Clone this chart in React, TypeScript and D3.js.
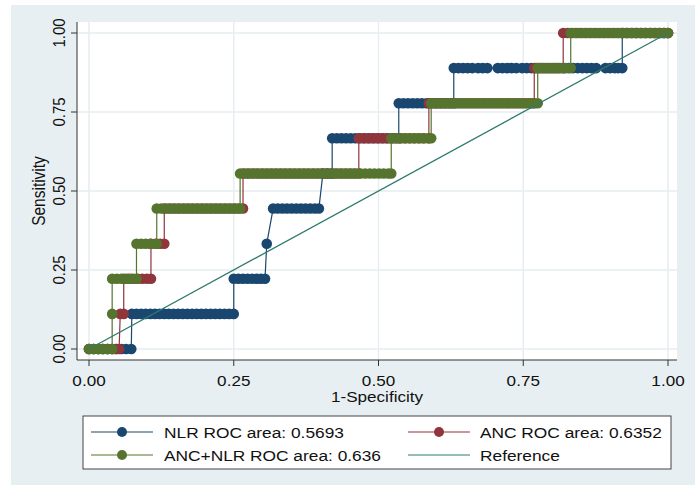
import React from 'react';
import * as d3 from 'd3';

// ---------- data ----------
const tickValues = [0, 0.25, 0.5, 0.75, 1];
const tickLabels = ['0.00', '0.25', '0.50', '0.75', '1.00'];
const xTitle = '1-Specificity';
const yTitle = 'Sensitivity';

// each row: [sensitivity, list of 1-specificity values at that sensitivity]
const nlrRows: [number, number[]][] = [
  [0, [0, 0.008, 0.016, 0.024, 0.032, 0.04, 0.048, 0.056, 0.064, 0.073]],
  [0.1111, [0.074, 0.082, 0.09, 0.098, 0.106, 0.114, 0.122, 0.13, 0.138, 0.146, 0.154, 0.162, 0.17, 0.178, 0.186, 0.194, 0.202, 0.21, 0.218, 0.226, 0.234, 0.242, 0.25]],
  [0.2222, [0.25, 0.258, 0.266, 0.274, 0.282, 0.29, 0.297, 0.304]],
  [0.3333, [0.307]],
  [0.4444, [0.318, 0.326, 0.334, 0.342, 0.35, 0.358, 0.366, 0.374, 0.382, 0.39, 0.397]],
  [0.5556, [0.404, 0.412, 0.42]],
  [0.6667, [0.42, 0.428, 0.436, 0.444, 0.452, 0.46, 0.468, 0.476, 0.484, 0.492, 0.5, 0.508, 0.516, 0.524, 0.535]],
  [0.7778, [0.535, 0.543, 0.551, 0.559, 0.567, 0.575, 0.583, 0.591, 0.599, 0.607, 0.615, 0.623, 0.63]],
  [0.8889, [0.63, 0.638, 0.646, 0.654, 0.662, 0.672, 0.68, 0.688, 0.706, 0.714, 0.722, 0.73, 0.738, 0.748, 0.756, 0.764, 0.772, 0.78, 0.788, 0.796, 0.804, 0.812, 0.82, 0.828, 0.836, 0.844, 0.852, 0.86, 0.868, 0.876, 0.892, 0.9, 0.908, 0.914, 0.921]],
  [1, [0.921, 0.929, 0.937, 0.945, 0.953, 0.961, 0.969, 0.977, 0.985, 0.993, 1]],
];

const ancRows: [number, number[]][] = [
  [0, [0, 0.008, 0.016, 0.024, 0.032, 0.04, 0.046, 0.052]],
  [0.1111, [0.054, 0.06]],
  [0.2222, [0.06, 0.068, 0.076, 0.084, 0.092, 0.1, 0.107]],
  [0.3333, [0.107, 0.115, 0.123, 0.13]],
  [0.4444, [0.13, 0.138, 0.146, 0.154, 0.162, 0.17, 0.178, 0.186, 0.194, 0.202, 0.21, 0.218, 0.226, 0.234, 0.242, 0.25, 0.258, 0.266]],
  [0.5556, [0.266, 0.274, 0.282, 0.29, 0.298, 0.306, 0.314, 0.322, 0.33, 0.338, 0.346, 0.354, 0.362, 0.37, 0.378, 0.386, 0.394, 0.402, 0.41, 0.418, 0.426, 0.434, 0.442, 0.45, 0.458, 0.466]],
  [0.6667, [0.466, 0.474, 0.482, 0.49, 0.498, 0.506, 0.514, 0.522, 0.53, 0.538, 0.546, 0.554, 0.562, 0.57, 0.578, 0.587]],
  [0.7778, [0.587, 0.595, 0.603, 0.611, 0.619, 0.627, 0.635, 0.643, 0.651, 0.659, 0.667, 0.675, 0.683, 0.691, 0.699, 0.707, 0.715, 0.723, 0.731, 0.739, 0.747, 0.755, 0.763, 0.769]],
  [0.8889, [0.769, 0.777, 0.785, 0.793, 0.801, 0.809, 0.819]],
  [1, [0.819, 0.827, 0.835, 0.843, 0.851, 0.859, 0.867, 0.875, 0.883, 0.891, 0.899, 0.907, 0.915, 0.923, 0.931, 0.939, 0.947, 0.955, 0.963, 0.971, 0.979, 0.987, 0.994, 1]],
];

const comboRows: [number, number[]][] = [
  [0, [0, 0.008, 0.016, 0.024, 0.032, 0.04]],
  [0.1111, [0.04]],
  [0.2222, [0.04, 0.048, 0.056, 0.064, 0.072, 0.082]],
  [0.3333, [0.082, 0.09, 0.098, 0.106, 0.117]],
  [0.4444, [0.117, 0.125, 0.133, 0.141, 0.149, 0.157, 0.165, 0.173, 0.181, 0.189, 0.197, 0.205, 0.213, 0.221, 0.229, 0.237, 0.245, 0.253, 0.261]],
  [0.5556, [0.261, 0.269, 0.277, 0.285, 0.293, 0.301, 0.309, 0.317, 0.325, 0.333, 0.341, 0.349, 0.357, 0.365, 0.373, 0.381, 0.389, 0.397, 0.405, 0.413, 0.421, 0.429, 0.437, 0.445, 0.453, 0.461, 0.469, 0.477, 0.485, 0.493, 0.501, 0.509, 0.517, 0.522]],
  [0.6667, [0.522, 0.53, 0.538, 0.546, 0.554, 0.562, 0.57, 0.578, 0.586, 0.591]],
  [0.7778, [0.591, 0.599, 0.607, 0.615, 0.623, 0.631, 0.639, 0.647, 0.655, 0.663, 0.671, 0.679, 0.687, 0.695, 0.703, 0.711, 0.719, 0.727, 0.735, 0.743, 0.751, 0.759, 0.767, 0.775]],
  [0.8889, [0.775, 0.783, 0.791, 0.799, 0.807, 0.815, 0.823, 0.832]],
  [1, [0.832, 0.84, 0.848, 0.856, 0.864, 0.872, 0.88, 0.888, 0.896, 0.904, 0.912, 0.92, 0.928, 0.936, 0.944, 0.952, 0.96, 0.968, 0.976, 0.984, 0.992, 1]],
];

const referenceLine: [number, number][] = [[0, 0], [1, 1]];

const seriesNames = ['NLR ROC area: 0.5693', 'ANC ROC area: 0.6352', 'ANC+NLR ROC area: 0.636', 'Reference'];
const seriesColors = ['#1a476f', '#90353b', '#55752f', '#2f7a6c'];

// ---------- layout ----------
const W = 697;
const H = 485;
const plotL = 77, plotR = 677, plotT = 22, plotB = 360;
const FONT = '"Liberation Sans", Arial, Helvetica, sans-serif';
const SX = 1.14; // horizontal text stretch seen in the reference

const x = d3.scaleLinear().domain([0, 1]).range([89, 668]);
const y = d3.scaleLinear().domain([0, 1]).range([349, 33]);

function flatten(rows: [number, number[]][]): [number, number][] {
  const pts: [number, number][] = [];
  rows.forEach(([s, xs]) => xs.forEach((f) => pts.push([f, s])));
  return pts;
}

const line = d3.line<[number, number]>().x((d) => x(d[0])).y((d) => y(d[1]));

function Txt(props: { x: number; y: number; size: number; anchor?: string; rotate?: boolean; children: string }) {
  const { x: tx, y: ty, size, anchor, rotate, children } = props;
  const tf = rotate
    ? `translate(${tx},${ty}) scale(${SX},1) rotate(-90)`
    : `translate(${tx},${ty}) scale(${SX},1)`;
  return (
    <text transform={tf} fontSize={size} fontFamily={FONT} fill="#111" textAnchor={anchor || 'start'}>
      {children}
    </text>
  );
}

export default function App() {
  const series = [nlrRows, ancRows, comboRows].map(flatten);
  const legendItems = [
    { col: 0, row: 0, i: 0, marker: true },
    { col: 1, row: 0, i: 1, marker: true },
    { col: 0, row: 1, i: 2, marker: true },
    { col: 1, row: 1, i: 3, marker: false },
  ];
  const colX = [[91, 153, 122, 164], [408, 470, 439, 480]];
  const rowY = [432, 455];

  return (
    <svg width={W} height={H} style={{ position: 'absolute', left: 0, top: 0 }}>
      <rect x={11} y={5} width={684} height={480} fill="#e8eff2" />
      <rect x={plotL} y={plotT} width={plotR - plotL} height={plotB - plotT} fill="#ffffff" />
      {/* grid */}
      {tickValues.map((t) => (
        <g key={'g' + t}>
          <line x1={plotL} x2={plotR} y1={y(t)} y2={y(t)} stroke="#e6eef1" strokeWidth={1.5} />
          <line x1={x(t)} x2={x(t)} y1={plotT} y2={plotB} stroke="#e6eef1" strokeWidth={1.5} />
        </g>
      ))}
      {/* series */}
      {series.map((pts, i) => (
        <g key={'s' + i}>
          <path d={line(pts) || ''} fill="none" stroke={seriesColors[i]} strokeWidth={1.2} />
          {pts.map((p, j) => (
            <circle key={j} cx={x(p[0])} cy={y(p[1])} r={5.3} fill={seriesColors[i]} />
          ))}
        </g>
      ))}
      <path d={line(referenceLine) || ''} fill="none" stroke={seriesColors[3]} strokeWidth={1.3} />
      {/* axes */}
      <line x1={plotL} x2={plotL} y1={plotT} y2={plotB} stroke="#333" strokeWidth={1} />
      <line x1={plotL} x2={plotR} y1={plotB} y2={plotB} stroke="#333" strokeWidth={1} />
      {tickValues.map((t, i) => (
        <g key={'t' + t}>
          <line x1={x(t)} x2={x(t)} y1={plotB} y2={plotB + 6} stroke="#333" />
          <line x1={plotL - 6} x2={plotL} y1={y(t)} y2={y(t)} stroke="#333" />
          <Txt x={x(t)} y={386} size={15} anchor="middle">{tickLabels[i]}</Txt>
          <Txt x={65} y={y(t)} size={15} anchor="middle" rotate>{tickLabels[i]}</Txt>
        </g>
      ))}
      <Txt x={(plotL + plotR) / 2} y={402} size={15} anchor="middle">{xTitle}</Txt>
      <Txt x={45} y={(plotT + plotB) / 2} size={15.5} anchor="middle" rotate>{yTitle}</Txt>
      {/* legend */}
      <rect x={83} y={416} width={588} height={53} fill="#ffffff" stroke="#444" strokeWidth={1} />
      {legendItems.map((it) => {
        const [lx1, lx2, mx, tx] = colX[it.col];
        const ly = rowY[it.row];
        const c = seriesColors[it.i];
        return (
          <g key={'l' + it.i}>
            <line x1={lx1} x2={lx2} y1={ly} y2={ly} stroke={c} strokeWidth={1.2} />
            {it.marker && <circle cx={mx} cy={ly} r={5} fill={c} />}
            <Txt x={tx} y={ly + 5.5} size={15.2}>{seriesNames[it.i]}</Txt>
          </g>
        );
      })}
    </svg>
  );
}
